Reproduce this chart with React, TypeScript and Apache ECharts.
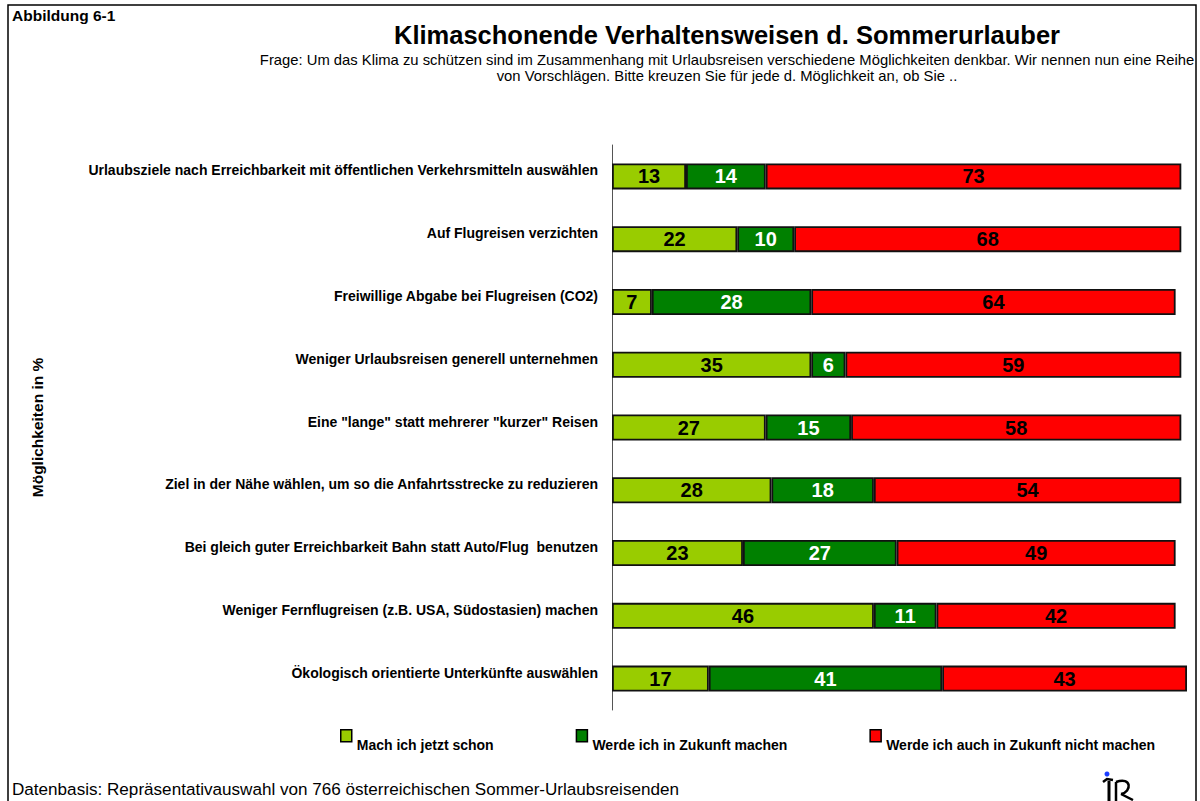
import React, { useEffect, useRef } from "react";
import * as echarts from "echarts";

const categories = [
  "Urlaubsziele nach Erreichbarkeit mit öffentlichen Verkehrsmitteln auswählen",
  "Auf Flugreisen verzichten",
  "Freiwillige Abgabe bei Flugreisen (CO2)",
  "Weniger Urlaubsreisen generell unternehmen",
  "Eine \"lange\" statt mehrerer \"kurzer\" Reisen",
  "Ziel in der Nähe wählen, um so die Anfahrtsstrecke zu reduzieren",
  "Bei gleich guter Erreichbarkeit Bahn statt Auto/Flug  benutzen",
  "Weniger Fernflugreisen (z.B. USA, Südostasien) machen",
  "Ökologisch orientierte Unterkünfte auswählen",
];

const seriesNames = [
  "Mach ich jetzt schon",
  "Werde ich in Zukunft machen",
  "Werde ich auch in Zukunft nicht machen",
];

const machIchSchon = [13, 22, 7, 35, 27, 28, 23, 46, 17];
const werdeIchMachen = [14, 10, 28, 6, 15, 18, 27, 11, 41];
const werdeNichtMachen = [73, 68, 64, 59, 58, 54, 49, 42, 43];

const colors = ["#99CC00", "#008000", "#FF0000"];
const labelColors = ["#000000", "#FFFFFF", "#000000"];

const FONT = "Liberation Sans, Arial, sans-serif";

export default function App() {
  const ref = useRef<HTMLDivElement>(null);

  useEffect(() => {
    if (!ref.current) return;
    const chart = echarts.init(ref.current, null, { renderer: "svg" });
    const values = [machIchSchon, werdeIchMachen, werdeNichtMachen];
    const option = {
      animation: false,
      backgroundColor: "#ffffff",
      textStyle: { fontFamily: FONT },
      title: [
        {
          text: "Klimaschonende Verhaltensweisen d. Sommerurlauber",
          left: 727,
          top: 22,
          padding: 0,
          textAlign: "center",
          textStyle: { fontFamily: FONT, fontSize: 25.5, fontWeight: "bold", color: "#000" },
        },
        {
          text:
            "Frage: Um das Klima zu schützen sind im Zusammenhang mit Urlaubsreisen verschiedene Möglichkeiten denkbar. Wir nennen nun eine Reihe\nvon Vorschlägen. Bitte kreuzen Sie für jede d. Möglichkeit an, ob Sie ..",
          left: 727,
          top: 52,
          padding: 0,
          textAlign: "center",
          textStyle: { fontFamily: FONT, fontSize: 14.8, fontWeight: "normal", color: "#000", lineHeight: 16, align: "center" },
        },
        {
          text: "Abbildung 6-1",
          left: 12,
          top: 7,
          padding: 0,
          textStyle: { fontFamily: FONT, fontSize: 15.5, fontWeight: "bold", color: "#000" },
        },
        {
          text: "Datenbasis: Repräsentativauswahl von 766 österreichischen Sommer-Urlaubsreisenden",
          left: 12,
          top: 781,
          padding: 0,
          textStyle: { fontFamily: FONT, fontSize: 17.1, fontWeight: "normal", color: "#000" },
        },
      ],
      legend: {
        left: 340,
        top: 729,
        padding: 0,
        itemWidth: 11,
        itemHeight: 12,
        itemGap: 82,
        icon: "rect",
        selectedMode: false,
        data: seriesNames,
        itemStyle: { borderColor: "#000", borderWidth: 1.5 },
        formatter: "{t|{name}}",
        textStyle: {
          fontFamily: FONT,
          fontSize: 14,
          fontWeight: "bold",
          color: "#000",
          rich: {
            t: {
              fontFamily: FONT,
              fontSize: 14,
              fontWeight: "bold",
              color: "#000",
              padding: [18, 0, 0, 0],
            },
          },
        },
      },
      grid: { left: 612, top: 145, width: 575, height: 565 },
      xAxis: {
        type: "value",
        min: 0,
        max: 101,
        show: false,
      },
      yAxis: {
        type: "category",
        data: categories,
        inverse: true,
        name: "Möglichkeiten in %",
        nameLocation: "middle",
        nameGap: 567,
        nameRotate: 90,
        nameTextStyle: { fontFamily: FONT, fontSize: 15.5, fontWeight: "bold", color: "#000" },
        axisLine: { show: true, lineStyle: { color: "#555", width: 1 } },
        axisTick: { show: false },
        axisLabel: {
          margin: 14,
          fontFamily: FONT,
          fontSize: 14,
          fontWeight: "bold",
          color: "#000",
          verticalAlign: "bottom",
          lineHeight: 12,
        },
      },
      series: seriesNames.map((name, i) => ({
        name,
        type: "bar",
        stack: "total",
        barWidth: 26,
        clip: true,
        data: values[i],
        itemStyle: { color: colors[i], borderColor: "#111", borderWidth: 1.8 },
        label: {
          show: true,
          position: "inside",
          fontFamily: FONT,
          fontSize: 20,
          fontWeight: "bold",
          color: labelColors[i],
        },
      })),
      graphic: [
        {
          type: "rect",
          shape: { x: 8, y: 5, width: 1188, height: 800 },
          style: { fill: "none", stroke: "#000", lineWidth: 1.5 },
          silent: true,
        },
        { type: "circle", shape: { cx: 1107, cy: 774, r: 2.5 }, style: { fill: "#1a3cff" } },
        {
          type: "polyline",
          shape: { points: [[1103, 782], [1107, 779], [1113, 780]] },
          style: { stroke: "#000", lineWidth: 2.5, fill: "none" },
        },
        {
          type: "line",
          shape: { x1: 1109, y1: 781, x2: 1109, y2: 801 },
          style: { stroke: "#000", lineWidth: 3 },
        },
        {
          type: "line",
          shape: { x1: 1116, y1: 782, x2: 1116, y2: 801 },
          style: { stroke: "#000", lineWidth: 2.5 },
        },
        {
          type: "bezierCurve",
          shape: { x1: 1116, y1: 782, x2: 1121, y2: 794, cpx1: 1132, cpy1: 776, cpx2: 1132, cpy2: 792 },
          style: { stroke: "#000", lineWidth: 2.5, fill: "none" },
        },
        {
          type: "line",
          shape: { x1: 1121, y1: 794, x2: 1133, y2: 800 },
          style: { stroke: "#000", lineWidth: 2.5 },
        },
      ],
    };
    chart.setOption(option as any);
    return () => chart.dispose();
  }, []);

  return (
    <div
      ref={ref}
      style={{ position: "fixed", left: 0, top: 0, width: 1200, height: 801 }}
    />
  );
}
